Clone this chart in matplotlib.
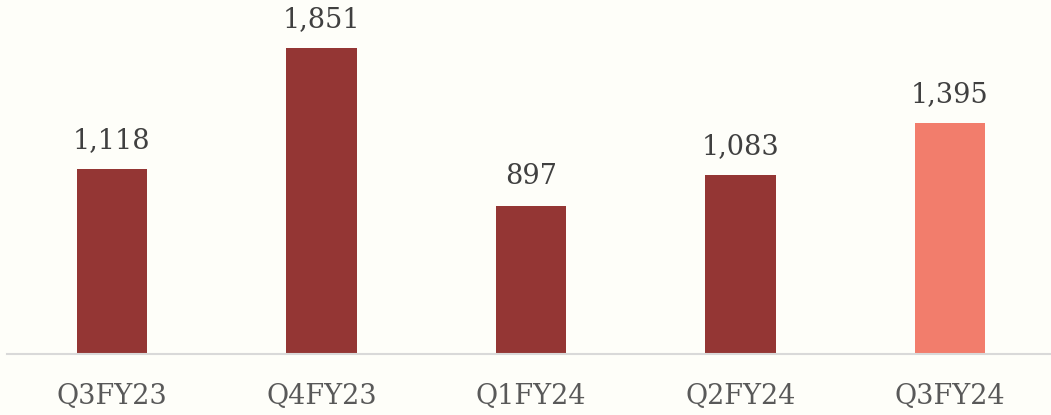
import matplotlib
matplotlib.use("Agg")
import matplotlib.pyplot as plt

categories = ["Q3FY23", "Q4FY23", "Q1FY24", "Q2FY24", "Q3FY24"]
values = [1118, 1851, 897, 1083, 1395]
labels = ["1,118", "1,851", "897", "1,083", "1,395"]
colors = ["#943634", "#943634", "#943634", "#943634", "#F27D6C"]

W, H = 1051, 415
fig = plt.figure(figsize=(W / 100, H / 100), dpi=100)
bg = "#FEFEF9"
fig.patch.set_facecolor(bg)
ax = fig.add_axes([7.25 / W, (H - 354) / H, 1047.5 / W, 354 / H])
ax.set_facecolor(bg)

x = list(range(len(categories)))
ax.bar(x, values, width=0.335, color=colors, zorder=2)
ax.set_xlim(-0.5, len(categories) - 0.5)
ax.set_ylim(0, 2141)

for xi, v, lab in zip(x, values, labels):
    ax.annotate(lab, (xi, v), xytext=(0, 11), textcoords="offset points",
                ha="center", va="bottom", fontsize=19.5, color="#404040",
                family="DejaVu Serif")

for s in ["top", "right", "left"]:
    ax.spines[s].set_visible(False)
ax.spines["bottom"].set_color("#D9D9D9")
ax.spines["bottom"].set_linewidth(1.5)
ax.set_yticks([])
ax.set_xticks(x)
ax.set_xticklabels(categories, fontsize=19.5, color="#595959", family="DejaVu Serif")
ax.tick_params(axis="x", length=0, pad=21)

fig.savefig("out.png", dpi=100, facecolor=bg)
